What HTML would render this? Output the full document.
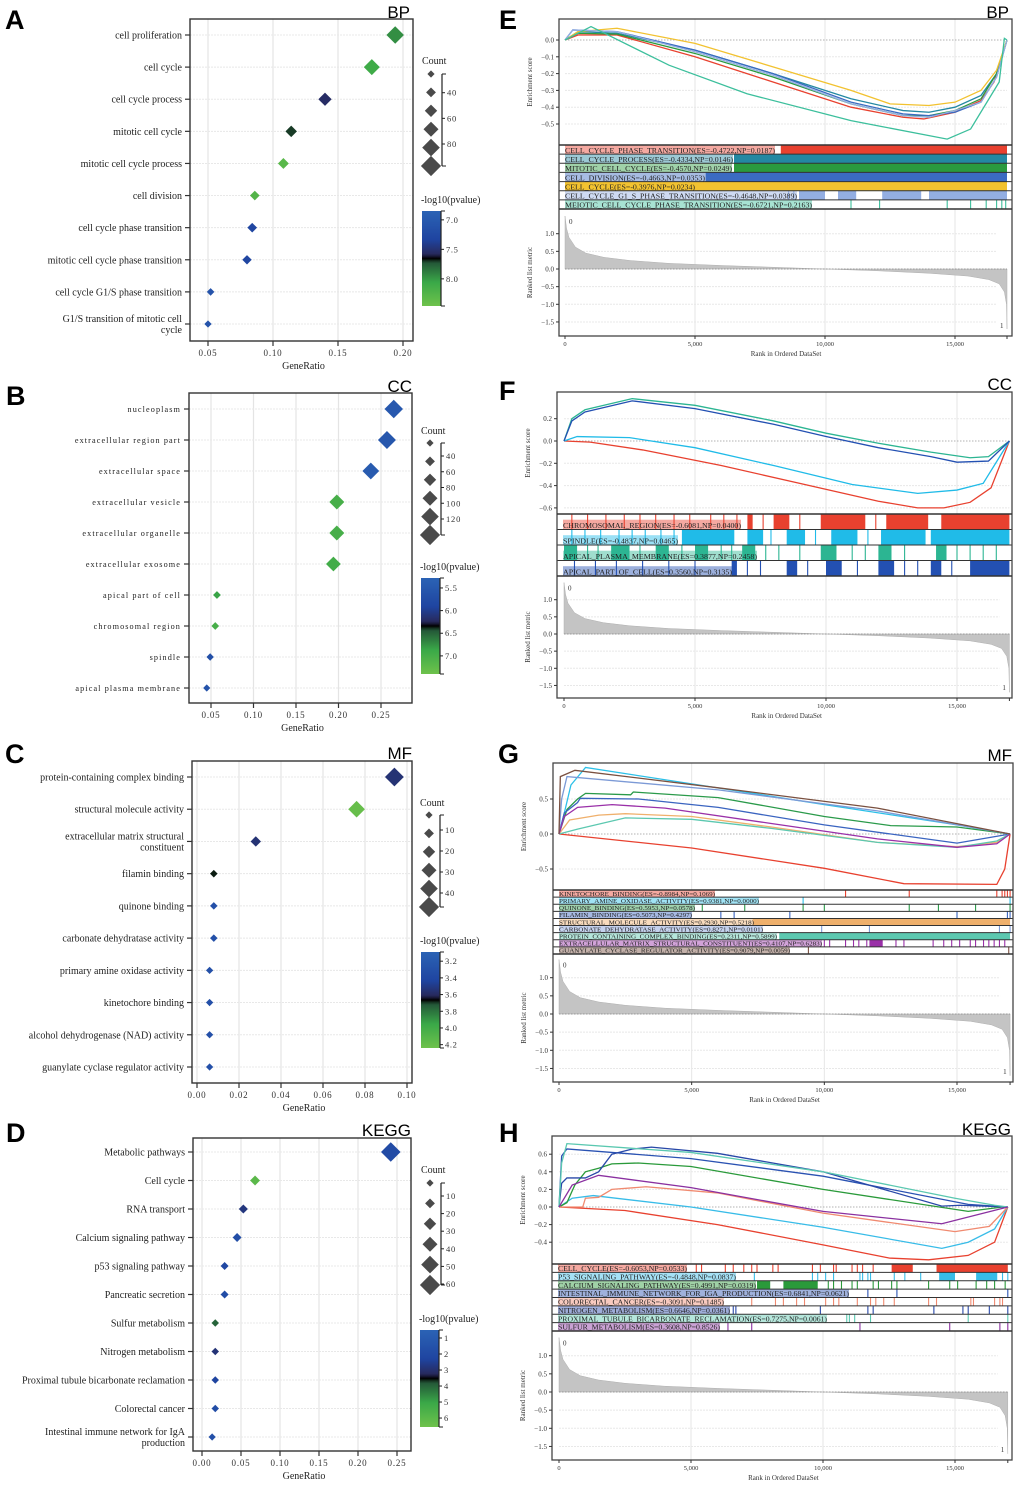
<!DOCTYPE html>
<html><head><meta charset="utf-8"><style>
html,body{margin:0;padding:0;background:#fff;}
svg{display:block;font-family:"Liberation Serif",serif;}
.lt{font-family:"Liberation Sans",sans-serif;}
</style></head><body>
<svg id="fig" width="1020" height="1487" viewBox="0 0 1020 1487" xmlns="http://www.w3.org/2000/svg">
<defs id="defs"></defs>
<text class="lt" x="5" y="29" font-size="27" font-weight="bold">A</text>
<text class="lt" x="6" y="405" font-size="27" font-weight="bold">B</text>
<text class="lt" x="5" y="763" font-size="27" font-weight="bold">C</text>
<text class="lt" x="6" y="1142" font-size="27" font-weight="bold">D</text>
<text class="lt" x="499" y="29" font-size="27" font-weight="bold">E</text>
<text class="lt" x="499" y="400" font-size="27" font-weight="bold">F</text>
<text class="lt" x="498" y="763" font-size="27" font-weight="bold">G</text>
<text class="lt" x="499" y="1142" font-size="27" font-weight="bold">H</text>
<text class="lt" x="410" y="18" font-size="17" text-anchor="end">BP</text>
<text class="lt" x="412" y="392" font-size="17" text-anchor="end">CC</text>
<text class="lt" x="412" y="759" font-size="17" text-anchor="end">MF</text>
<text class="lt" x="411" y="1136" font-size="17" text-anchor="end">KEGG</text>
<text class="lt" x="1009" y="18" font-size="17" text-anchor="end">BP</text>
<text class="lt" x="1012" y="390" font-size="17" text-anchor="end">CC</text>
<text class="lt" x="1012" y="761" font-size="17" text-anchor="end">MF</text>
<text class="lt" x="1011" y="1135" font-size="17" text-anchor="end">KEGG</text>
</svg>
<script>
// ===== Dot plot data =====
const aTerms=["cell proliferation","cell cycle","cell cycle process","mitotic cell cycle","mitotic cell cycle process","cell division","cell cycle phase transition","mitotic cell cycle phase transition","cell cycle G1/S phase transition","G1/S transition of mitotic cell\ncycle"];
const aRatio=[0.194,0.176,0.140,0.114,0.108,0.086,0.084,0.080,0.052,0.050];
const aCount=[90,80,62,50,46,38,38,36,24,22];
const aPval=[7.95,8.1,7.55,7.7,8.3,8.25,7.3,7.3,7.1,7.1];
const aXTicks=[0.05,0.10,0.15,0.20];
const aCTicks=[7.0,7.5,8.0];
const aSTicks=[40,60,80];

const bTerms=["nucleoplasm","extracellular region part","extracellular space","extracellular vesicle","extracellular organelle","extracellular exosome","apical part of cell","chromosomal region","spindle","apical plasma membrane"];
const bRatio=[0.265,0.257,0.238,0.198,0.198,0.194,0.057,0.055,0.049,0.045];
const bCount=[135,130,118,100,100,98,28,27,24,22];
const bPval=[5.5,5.55,5.45,7.0,7.0,6.95,6.85,7.0,5.7,5.6];
const bXTicks=[0.05,0.10,0.15,0.20,0.25];
const bCTicks=[5.5,6.0,6.5,7.0];
const bSTicks=[40,60,80,100,120];

const cTerms=["protein-containing complex binding","structural molecule activity","extracellular matrix structural\nconstituent","filamin binding","quinone binding","carbonate dehydratase activity","primary amine oxidase activity","kinetochore binding","alcohol dehydrogenase (NAD) activity","guanylate cyclase regulator activity"];
const cRatio=[0.094,0.076,0.028,0.008,0.008,0.008,0.006,0.006,0.006,0.006];
const cCount=[44,36,14,4,4,4,3,3,3,3];
const cPval=[3.55,4.2,3.55,3.68,3.3,3.3,3.3,3.3,3.3,3.3];
const cXTicks=[0.00,0.02,0.04,0.06,0.08,0.10];
const cCTicks=[3.2,3.4,3.6,3.8,4.0,4.2];
const cSTicks=[10,20,30,40];

const dTerms=["Metabolic pathways","Cell cycle","RNA transport","Calcium signaling pathway","p53 signaling pathway","Pancreatic secretion","Sulfur metabolism","Nitrogen metabolism","Proximal tubule bicarbonate reclamation","Colorectal cancer","Intestinal immune network for IgA\nproduction"];
const dRatio=[0.242,0.068,0.053,0.045,0.029,0.029,0.017,0.017,0.017,0.017,0.013];
const dCount=[62,16,12,11,7,7,4,4,4,4,3];
const dPval=[1.9,6.0,2.8,1.7,2.1,1.8,4.0,2.9,2.3,1.8,1.6];
const dXTicks=[0.00,0.05,0.10,0.15,0.20,0.25];
const dCTicks=[1,2,3,4,5,6];
const dSTicks=[10,20,30,40,50,60];

// ===== GSEA data =====
const eNames=["CELL_CYCLE_PHASE_TRANSITION(ES=-0.4722,NP=0.0187)","CELL_CYCLE_PROCESS(ES=-0.4334,NP=0.0146)","MITOTIC_CELL_CYCLE(ES=-0.4570,NP=0.0249)","CELL_DIVISION(ES=-0.4663,NP=0.0353)","CELL_CYCLE(ES=-0.3976,NP=0.0234)","CELL_CYCLE_G1_S_PHASE_TRANSITION(ES=-0.4648,NP=0.0389)","MEIOTIC_CELL_CYCLE_PHASE_TRANSITION(ES=-0.6721,NP=0.2163)"];
const eColors=["#e8412f","#2388a2","#2a9a3e","#3b6bc2","#f2c230","#93aee2","#3cbf9c"];
const eCurves=[
 [[0,0],[500,0.03],[2000,0.03],[5000,-0.1],[8000,-0.25],[11000,-0.4],[13000,-0.46],[13800,-0.47],[15000,-0.43],[16000,-0.36],[16500,-0.25],[17000,0]],
 [[0,0],[500,0.05],[2000,0.04],[5000,-0.06],[8000,-0.2],[11000,-0.35],[13000,-0.42],[14000,-0.43],[15000,-0.4],[16000,-0.33],[16600,-0.2],[17000,0]],
 [[0,0],[500,0.04],[2000,0.035],[5000,-0.08],[8000,-0.22],[11000,-0.38],[13000,-0.45],[14000,-0.45],[15000,-0.42],[16000,-0.35],[16600,-0.2],[17000,0]],
 [[0,0],[300,0.06],[2000,0.05],[5000,-0.06],[8000,-0.2],[11000,-0.37],[13000,-0.44],[14000,-0.45],[15000,-0.43],[16000,-0.37],[16600,-0.22],[17000,0]],
 [[0,0],[500,0.05],[2000,0.07],[5000,-0.02],[8000,-0.16],[11000,-0.3],[12500,-0.38],[14000,-0.39],[15000,-0.37],[16000,-0.3],[16600,-0.18],[17000,0]],
 [[0,0],[300,0.06],[2000,0.05],[5000,-0.07],[8000,-0.21],[11000,-0.38],[13000,-0.45],[14000,-0.46],[15000,-0.42],[16000,-0.37],[16600,-0.22],[17000,0]],
 [[0,0],[1000,0.08],[4000,-0.15],[7000,-0.32],[11000,-0.48],[14700,-0.59],[15600,-0.53],[16700,-0.25],[16900,0.01],[17000,0]]];
const eBlocks=[[[8300,17000]],[[6500,17000]],[[6500,17000]],[[5400,17000]],[[0,17000]],[[9000,10000],[10500,11200],[12200,13700],[14000,17000]],[]];
const eTicks=[[],[],[],[],[],[8600,8800],[11000,12100,14700,15600,16200,16600,16800,16950]];
const eRankTicks=[0,5000,10000,15000];
const eEsTicks=[0.0,-0.1,-0.2,-0.3,-0.4,-0.5];
const eRkTicks=[1.0,0.5,0.0,-0.5,-1.0,-1.5];

const fNames=["CHROMOSOMAL_REGION(ES=-0.6081,NP=0.0400)","SPINDLE(ES=-0.4837,NP=0.0465)","APICAL_PLASMA_MEMBRANE(ES=0.3877,NP=0.2458)","APICAL_PART_OF_CELL(ES=0.3560,NP=0.3135)"];
const fColors=["#e8412f","#20bbe8","#2cb592","#2350b2"];
const fCurves=[
 [[0,0],[1000,-0.01],[3000,-0.08],[6000,-0.22],[9000,-0.38],[12000,-0.54],[13500,-0.6],[14500,-0.6],[15500,-0.55],[16300,-0.42],[17000,0]],
 [[0,0],[500,0.04],[2500,0.03],[5000,-0.06],[8000,-0.22],[11000,-0.39],[13500,-0.47],[15000,-0.44],[16000,-0.38],[17000,0]],
 [[0,0],[300,0.2],[800,0.28],[2600,0.38],[5000,0.32],[8000,0.18],[10000,0.07],[12000,-0.02],[14000,-0.1],[15500,-0.15],[16200,-0.14],[17000,0]],
 [[0,0],[300,0.18],[800,0.26],[2600,0.36],[5000,0.29],[8000,0.15],[10000,0.04],[12000,-0.06],[14000,-0.14],[15000,-0.19],[16200,-0.18],[17000,0]]];
const fBlocks=[[[7000,7200],[8000,8600],[9800,11500],[12300,13900],[14400,17000]],[[4500,6500],[7000,7600],[8500,9200],[10200,11200],[12100,13800],[14000,17000]],[[0,500],[1800,2500],[3500,4000],[5000,5500],[6800,7300],[9800,10400],[12000,12500],[14200,14600]],[[6400,6600],[8500,8900],[10000,10600],[12000,12600],[14000,14400],[15500,17000]]];
const fTicks=[[300,900,1600,2300,2900,3500,4200,4800,5600,6100,6600,7600,9000,11900],[300,800,1400,2100,2600,3100,3700,4200,7900,9600,11600],[900,1300,2900,4500,6000,6400,7700,8200,9000,11000,11500,13000,15000,15500,16000,16500],[400,1200,2000,3000,4000,5000,7000,7500,9300,11200,13000,13500,14800]];
const fRankTicks=[0,5000,10000,15000];
const fEsTicks=[0.2,0.0,-0.2,-0.4,-0.6];
const fRkTicks=[1.0,0.5,0.0,-0.5,-1.0,-1.5];

const gNames=["KINETOCHORE_BINDING(ES=-0.8984,NP=0.1069)","PRIMARY_AMINE_OXIDASE_ACTIVITY(ES=0.9381,NP=0.0000)","QUINONE_BINDING(ES=0.5953,NP=0.0578)","FILAMIN_BINDING(ES=0.5073,NP=0.4297)","STRUCTURAL_MOLECULE_ACTIVITY(ES=0.2930,NP=0.5218)","CARBONATE_DEHYDRATASE_ACTIVITY(ES=0.8271,NP=0.0101)","PROTEIN_CONTAINING_COMPLEX_BINDING(ES=0.2311,NP=0.5899)","EXTRACELLULAR_MATRIX_STRUCTURAL_CONSTITUENT(ES=0.4107,NP=0.6283)","GUANYLATE_CYCLASE_REGULATOR_ACTIVITY(ES=0.9079,NP=0.0059)"];
const gColors=["#e8412f","#2cc0e8","#2a9a4a","#3a64c0","#efb06c","#7c9ad6","#5cc8b0","#9a30a8","#7a5040"];
const gCurves=[
 [[0,0],[5000,-0.2],[10000,-0.49],[13000,-0.71],[16500,-0.72],[16800,-0.5],[17000,0]],
 [[0,0],[200,0.3],[450,0.7],[1000,0.95],[5800,0.67],[10000,0.42],[15000,0.13],[17000,0]],
 [[0,0],[300,0.35],[700,0.5],[1000,0.58],[2700,0.56],[2800,0.6],[6000,0.52],[10000,0.25],[12500,0.12],[15000,0.1],[17000,0]],
 [[0,0],[200,0.3],[700,0.45],[800,0.51],[3000,0.5],[6000,0.38],[10000,0.13],[15000,-0.13],[17000,0]],
 [[0,0],[400,0.2],[1500,0.27],[2500,0.29],[5000,0.25],[8000,0.1],[12000,-0.12],[15000,-0.18],[16500,-0.12],[17000,0]],
 [[0,0],[100,0.5],[300,0.82],[6000,0.63],[12000,0.33],[17000,0]],
 [[0,0],[700,0.07],[2500,0.23],[5000,0.21],[8000,0.08],[12000,-0.12],[15000,-0.19],[16500,-0.1],[17000,0]],
 [[0,0],[200,0.25],[700,0.38],[2000,0.42],[4000,0.37],[8000,0.15],[12000,-0.07],[15000,-0.19],[16500,-0.14],[17000,0]],
 [[0,0],[50,0.82],[600,0.91],[6000,0.66],[12000,0.37],[17000,0]]];
const gBlocks=[[],[],[],[],[[7300,17000]],[],[[8300,17000]],[[11700,12200]],[]];
const gTicks=[[10800,13200,16500,16700,16800,16900,17000],[9200,17000],[5400,7000,9200,10000,13200,14300,15700,17000],[6100,6600,8700,15000,16900,17000],[],[9900,11700,16600,17000],[],[10000,10200,10800,11100,11300,11600,11800,12700,13000,14100,14500,14800,15100,15500,15700,16000,16200,16400,16600,16800],[9400,16950]];
const gRankTicks=[0,5000,10000,15000];
const gEsTicks=[0.5,0.0,-0.5];
const gRkTicks=[1.0,0.5,0.0,-0.5,-1.0,-1.5];

const hNames=["CELL_CYCLE(ES=-0.6053,NP=0.0533)","P53_SIGNALING_PATHWAY(ES=-0.4848,NP=0.0837)","CALCIUM_SIGNALING_PATHWAY(ES=0.4991,NP=0.0319)","INTESTINAL_IMMUNE_NETWORK_FOR_IGA_PRODUCTION(ES=0.6841,NP=0.0621)","COLORECTAL_CANCER(ES=-0.3091,NP=0.1485)","NITROGEN_METABOLISM(ES=0.6646,NP=0.0361)","PROXIMAL_TUBULE_BICARBONATE_RECLAMATION(ES=0.7275,NP=0.0061)","SULFUR_METABOLISM(ES=0.3608,NP=0.8526)"];
const hColors=["#e8412f","#38bce8","#2a9a3a","#2a52b2","#f08a70","#2848a8","#5ac8b0","#8a30a0"];
const hCurves=[
 [[0,0],[2500,-0.04],[6000,-0.2],[10000,-0.43],[12500,-0.58],[14000,-0.6],[15500,-0.55],[16500,-0.4],[17000,0]],
 [[0,0],[500,0.1],[1300,0.13],[5000,0.0],[10000,-0.23],[14500,-0.47],[15500,-0.4],[16500,-0.25],[17000,0]],
 [[0,0],[300,0.05],[600,0.25],[1000,0.4],[1500,0.44],[2000,0.49],[3000,0.5],[5000,0.46],[10000,0.2],[15500,-0.05],[16800,0.0],[17000,0]],
 [[0,0],[100,0.58],[300,0.66],[5000,0.55],[10000,0.35],[15500,0.03],[17000,0]],
 [[0,0],[900,0.0],[1000,0.1],[1500,0.11],[2000,0.2],[3300,0.23],[6000,0.16],[10000,-0.07],[15000,-0.28],[16300,-0.22],[17000,0]],
 [[0,0],[100,0.27],[300,0.33],[1000,0.33],[1500,0.4],[2000,0.6],[2800,0.66],[3500,0.68],[6000,0.61],[10000,0.4],[14500,0.01],[15200,0.02],[17000,0]],
 [[0,0],[100,0.5],[300,0.72],[5000,0.62],[10000,0.4],[15000,0.1],[16500,0.02],[17000,0]],
 [[0,0],[500,0.25],[1500,0.36],[5000,0.22],[10000,-0.05],[14500,-0.19],[17000,0]]];
const hBlocks=[[[12600,13400],[14300,17000]],[[14400,15000],[15800,16600]],[[7500,8000],[8500,9800]],[],[],[],[],[]];
const hTicks=[[5200,5400,6300,6600,7000,7300,7500,8100,8300,9600,9900,10400,10500,11100,11300,11500,11900],[7400,9600,9800,10100,10400,11400,11500,11700,11800,12700,13100,13700,16800,17000],[10200,10400,10700,11100,11300,11900,12100,12600,12800,14000,14800,15100,15800,16200,16500,16900],[11700,12800,17000],[7300,8200,8500,9000,9300,10100,10400,10600,11300,11800,12000,12300,12700,14000,14300,15600,15700,16500,16700,16800],[6600,6700,9900,11700,11900,14200,15300,15500,16300,17000],[10900,11000,11200,11800,15500,17000],[6400,7300,11400,14800,16700,17000]];
const hRankTicks=[0,5000,10000,15000];
const hEsTicks=[0.6,0.4,0.2,0.0,-0.2,-0.4];
const hRkTicks=[1.0,0.5,0.0,-0.5,-1.0,-1.5];

// shared ranked list metric
const metricRank=[0,60,150,400,800,1500,2500,4000,6000,8000,10000,12000,14000,15500,16300,16700,16900,16980,17000];
const metricVal=[1.5,1.15,0.9,0.62,0.45,0.33,0.24,0.16,0.1,0.05,0.0,-0.05,-0.12,-0.2,-0.3,-0.42,-0.65,-1.0,-1.7];

// ===== helpers =====
const NS='http://www.w3.org/2000/svg';
const svg=document.getElementById('fig');
const defs=document.getElementById('defs');
function mk(tag,attrs,parent){const e=document.createElementNS(NS,tag);for(const k in attrs)e.setAttribute(k,attrs[k]);(parent||svg).appendChild(e);return e;}
const cStops=[[0,[43,99,181]],[0.3,[31,68,160]],[0.46,[40,40,90]],[0.5,[0,0,0]],[0.54,[35,85,55]],[0.75,[58,168,72]],[1,[110,194,75]]];
function colorAt(t){t=Math.max(0,Math.min(1,t));for(let i=1;i<cStops.length;i++){if(t<=cStops[i][0]){const a=cStops[i-1],b=cStops[i];const f=(t-a[0])/(b[0]-a[0]);const c=a[1].map((v,j)=>Math.round(v+(b[1][j]-v)*f));return 'rgb('+c.join(',')+')';}}return 'rgb(110,194,75)';}
function fmtN(v,d){return v.toFixed(d);}

function dotPlot(P,terms,ratio,count,pval,xTicks,cTicks,sTicks){
 const g=mk('g',{});
 
 
 const xs=v=>P.x0p+(v-P.x0v)*(P.x1p-P.x0p)/(P.x1v-P.x0v);
 const ys=i=>P.y0+i*(P.y1-P.y0)/(terms.length-1);
 const rs=c=>P.r0+(c-P.c0)*(P.r1-P.r0)/(P.c1-P.c0);
 const ct=v=>(v-P.cv0)/(P.cv1-P.cv0);
 xTicks.forEach(v=>{const l=mk('line',{x1:xs(v),x2:xs(v),y1:P.t,y2:P.b,stroke:'#e4e4e4','stroke-width':1.2},g);
 
 });
 terms.forEach((t,i)=>{const l=mk('line',{x1:P.l,x2:P.r,y1:ys(i),y2:ys(i),stroke:'#e8e8e8','stroke-width':1,'stroke-dasharray':'2,1'},g);
 
 });
 const box=mk('rect',{x:P.l,y:P.t,width:P.r-P.l,height:P.b-P.t,fill:'none',stroke:'#333','stroke-width':1.4},g);
 
 
 terms.forEach((t,i)=>{
  const y=ys(i);
  mk('line',{x1:P.l-5,x2:P.l,y1:y,y2:y,stroke:'#333','stroke-width':1.2},g);
  const lines=t.split('\n');
  const tx=mk('text',{x:P.l-8,'font-size':P.fs,'text-anchor':'end',fill:'#222','letter-spacing':P.ls||0},g);
  
  
  lines.forEach((ln,k)=>{const sp=mk('tspan',{x:P.l-8,y:y+P.fs*0.35+(k-(lines.length-1)/2)*P.fs*1.1},tx);sp.textContent=ln;});
  const r=rs(count[i]),cx=xs(ratio[i]);
  const d=mk('polygon',{points:[cx,y-r,cx+r,y,cx,y+r,cx-r,y].join(' ').replace(/(\S+) (\S+)/g,'$1,$2'),fill:colorAt(ct(pval[i]))},g);
  
  
 });
 xTicks.forEach(v=>{const x=xs(v);mk('line',{x1:x,x2:x,y1:P.b,y2:P.b+5,stroke:'#333','stroke-width':1.2},g);
  const t=mk('text',{x:x,y:P.b+15,'font-size':9,'text-anchor':'middle','letter-spacing':0.8,fill:'#333'},g);t.textContent=fmtN(v,2);
  
  });
 const xt=mk('text',{x:(P.l+P.r)/2+2,y:P.b+28,'font-size':10,'text-anchor':'middle',fill:'#222'},g);xt.textContent='GeneRatio';
 
 
 // size legend
 const ct1=mk('text',{x:P.lgX-9,y:P.cntY,'font-size':10,fill:'#222'},g);ct1.textContent='Count';
 
 
 for(let k=0;k<6;k++){const y=P.lgY0+k*(P.lgY1-P.lgY0)/5,r=3.6+k*1.3;
  const d=mk('polygon',{points:(P.lgX)+','+(y-r)+' '+(P.lgX+r)+','+y+' '+P.lgX+','+(y+r)+' '+(P.lgX-r)+','+y,fill:'#4a4a4a'},g);
  
  }
 const bx=P.lgX+11;
 mk('line',{x1:bx,x2:bx,y1:P.lgY0,y2:P.lgY1,stroke:'#222','stroke-width':1.2},g);
 mk('line',{x1:bx,x2:bx+4,y1:P.lgY0,y2:P.lgY0,stroke:'#222'},g);
 mk('line',{x1:bx,x2:bx+4,y1:P.lgY1,y2:P.lgY1,stroke:'#222'},g);
 sTicks.forEach(v=>{const y=P.sp0+(v-P.sv0)*(P.sp1-P.sp0)/(P.sv1-P.sv0);mk('line',{x1:bx,x2:bx+3,y1:y,y2:y,stroke:'#222'},g);
  const t=mk('text',{x:bx+5,y:y+3,'font-size':8.5,'letter-spacing':0.8,fill:'#333'},g);t.textContent=v;
  
  });
 // color legend
 const pt=mk('text',{x:P.cbX-1,y:P.cbY0-8,'font-size':10,fill:'#222'},g);pt.textContent='-log10(pvalue)';
 
 
 const gid='grad-'+P.name;
 const lg=mk('linearGradient',{id:gid,x1:0,y1:0,x2:0,y2:1},defs);
 for(let k=0;k<=40;k++){mk('stop',{offset:k/40,'stop-color':colorAt(k/40)},lg);}
 const cb=mk('rect',{x:P.cbX,y:P.cbY0,width:19,height:P.cbY1-P.cbY0,fill:'url(#'+gid+')'},g);
 
 
 const cx2=P.cbX+19;
 mk('line',{x1:cx2,x2:cx2,y1:P.cbY0,y2:P.cbY1,stroke:'#222','stroke-width':1.2},g);
 mk('line',{x1:cx2,x2:cx2+4,y1:P.cbY0,y2:P.cbY0,stroke:'#222'},g);
 mk('line',{x1:cx2,x2:cx2+4,y1:P.cbY1,y2:P.cbY1,stroke:'#222'},g);
 cTicks.forEach(v=>{const y=P.cbY0+ct(v)*(P.cbY1-P.cbY0);mk('line',{x1:cx2,x2:cx2+3,y1:y,y2:y,stroke:'#222'},g);
  const t=mk('text',{x:cx2+5,y:y+3,'font-size':8.5,'letter-spacing':0.6,fill:'#333'},g);t.textContent=(P.cd===0?v.toFixed(0):v.toFixed(1));
  
  });
}

dotPlot({name:'dotplot-bp',l:190,r:413,t:19,b:341,x0v:0.05,x0p:208,x1v:0.20,x1p:403,y0:35,y1:324,fs:10,r0:3.5,r1:9.5,c0:20,c1:100,cv0:6.85,cv1:8.46,lgX:431,lgY0:74,lgY1:166,cntY:64,sv0:40,sp0:92.7,sv1:80,sp1:144,cbX:422,cbY0:211,cbY1:306},aTerms,aRatio,aCount,aPval,aXTicks,aCTicks,aSTicks);
dotPlot({name:'dotplot-cc',l:189,r:412,t:393,b:703,x0v:0.05,x0p:211,x1v:0.25,x1p:381,y0:409,y1:688,fs:8.2,ls:1.1,r0:3.5,r1:9.5,c0:20,c1:140,cv0:5.28,cv1:7.4,lgX:430,lgY0:443,lgY1:535,cntY:434,sv0:40,sp0:456,sv1:120,sp1:519,cbX:421,cbY0:578,cbY1:674},bTerms,bRatio,bCount,bPval,bXTicks,bCTicks,bSTicks);
dotPlot({name:'dotplot-mf',l:192,r:412,t:761,b:1083,x0v:0,x0p:197,x1v:0.10,x1p:407,y0:777,y1:1067,fs:10,r0:3.5,r1:10,c0:2,c1:48,cv0:3.09,cv1:4.24,lgX:429,lgY0:815,lgY1:907,cntY:806,sv0:10,sp0:830,sv1:40,sp1:893,cbX:421,cbY0:952,cbY1:1048},cTerms,cRatio,cCount,cPval,cXTicks,cCTicks,cSTicks);
dotPlot({name:'dotplot-kegg',l:193,r:411,t:1138,b:1451,x0v:0,x0p:202,x1v:0.25,x1p:397,y0:1152,y1:1437,fs:10,r0:3.5,r1:10,c0:2,c1:64,cv0:0.5,cv1:6.56,cd:0,lgX:430,lgY0:1183,lgY1:1285,cntY:1173,sv0:10,sp0:1196,sv1:60,sp1:1284,cbX:420,cbY0:1330,cbY1:1427},dTerms,dRatio,dCount,dPval,dXTicks,dCTicks,dSTicks);

function gsea(P,names,colors,curves,blocks,ticks,rankTicks,esTicks,rkTicks){
 const g=mk('g',{});
 
 
 const xs=r=>P.x0+r*(P.x15-P.x0)/15000;
 const ye=v=>P.e0-v*P.eu;
 const yr=v=>P.k0-v*P.ku;
 const xEnd=xs(17000);
 // grids
 rankTicks.forEach(r=>{if(r===0)return;[[P.t,P.eb],[P.hb,P.b]].forEach(s=>{mk('line',{x1:xs(r),x2:xs(r),y1:s[0],y2:s[1],stroke:'#e6e6e6','stroke-width':1},g);});});
 esTicks.forEach(v=>{if(v===0)return;mk('line',{x1:xs(0),x2:xEnd,y1:ye(v),y2:ye(v),stroke:'#e8e8e8','stroke-dasharray':'2,1'},g);});
 rkTicks.forEach(v=>{if(v===0)return;mk('line',{x1:xs(0),x2:xEnd-10,y1:yr(v),y2:yr(v),stroke:'#e8e8e8','stroke-dasharray':'2,1'},g);});
 mk('line',{x1:xs(0),x2:xEnd,y1:ye(0),y2:ye(0),stroke:'#999','stroke-dasharray':'1.5,1.5','stroke-width':0.8},g);
 // metric
 let d='M'+xs(metricRank[0])+','+yr(0);
 metricRank.forEach((r,i)=>{d+=' L'+xs(r)+','+yr(metricVal[i]);});
 d+=' L'+xs(17000)+','+yr(0)+'Z';
 const mp=mk('path',{d:d,fill:'#c4c4c4',stroke:'#b0b0b0','stroke-width':0.5},g);
 
 
 mk('line',{x1:xs(0),x2:xEnd,y1:yr(0),y2:yr(0),stroke:'#888','stroke-dasharray':'1.5,1.5','stroke-width':0.8},g);
 const z0=mk('text',{x:xs(0)+4,y:yr(metricVal[0])+8,'font-size':7,fill:'#333'},g);z0.textContent='0';
 const z1=mk('text',{x:xEnd-7,y:P.b-8,'font-size':7,fill:'#333'},g);z1.textContent='1';
 // curves
 curves.forEach((c,i)=>{const pl=mk('polyline',{points:c.map(p=>xs(p[0])+','+ye(p[1])).join(' '),fill:'none',stroke:colors[i],'stroke-width':1.3},g);
  
  });
 // hit rows
 const n=names.length,rh=(P.hb-P.eb)/n;
 names.forEach((nm,i)=>{
  const y0=P.eb+i*rh;
  const bgH=Math.min(rh,P.lf+2);
  const bg=mk('rect',{x:P.lx,y:y0+rh-bgH,width:P.lend[i]-P.lx,height:bgH,fill:colors[i],'fill-opacity':0.45},g);
  
  
  blocks[i].forEach(b=>{const r=mk('rect',{x:xs(b[0]),y:y0,width:xs(b[1])-xs(b[0]),height:rh,fill:colors[i]},g);
   
   });
  ticks[i].forEach(tk=>{const l=mk('line',{x1:xs(tk),x2:xs(tk),y1:y0,y2:y0+rh,stroke:colors[i],'stroke-width':1.1},g);
   
   });
  const t=mk('text',{x:P.lx,y:y0+rh-1.3,'font-size':P.lf,fill:'#222',textLength:P.lend[i]-P.lx,lengthAdjust:'spacingAndGlyphs'},g);t.textContent=nm;
  
  
  if(i>0)mk('line',{x1:P.l,x2:P.r,y1:y0,y2:y0,stroke:'#333','stroke-width':1},g);
 });
 // frame
 const fr=mk('rect',{x:P.l,y:P.t,width:P.r-P.l,height:P.b-P.t,fill:'none',stroke:'#444','stroke-width':1.3},g);
 
 
 mk('line',{x1:P.l,x2:P.r,y1:P.eb,y2:P.eb,stroke:'#333','stroke-width':1.6},g);
 mk('line',{x1:P.l,x2:P.r,y1:P.hb,y2:P.hb,stroke:'#333','stroke-width':1.6},g);
 // y ticks
 const lab=(v)=>(v<0?'\u2212':'')+Math.abs(v).toFixed(1);
 esTicks.forEach(v=>{const y=ye(v);mk('line',{x1:P.l-3,x2:P.l,y1:y,y2:y,stroke:'#333'},g);
  const t=mk('text',{x:P.l-5,y:y+2.5,'font-size':7,'text-anchor':'end',fill:'#333'},g);t.textContent=lab(v);
  
  });
 rkTicks.forEach(v=>{const y=yr(v);mk('line',{x1:P.l-3,x2:P.l,y1:y,y2:y,stroke:'#333'},g);
  const t=mk('text',{x:P.l-5,y:y+2.5,'font-size':7,'text-anchor':'end',fill:'#333'},g);t.textContent=lab(v);
  
  });
 rankTicks.concat([17000]).forEach(r=>{const x=xs(r);mk('line',{x1:x,x2:x,y1:P.b,y2:P.b+3,stroke:'#333'},g);
  if(r===17000)return;
  const t=mk('text',{x:x,y:P.b+10,'font-size':6.5,'text-anchor':'middle',fill:'#333'},g);t.textContent=r.toLocaleString('en-US');
  
  });
 const xt=mk('text',{x:(xs(0)+xEnd)/2,y:P.b+20,'font-size':7,'text-anchor':'middle',fill:'#333'},g);xt.textContent='Rank in Ordered DataSet';
 
 
 const ya=(P.t+P.eb)/2,yb=(P.hb+P.b)/2;
 const t1=mk('text',{x:P.l-27,y:ya,'font-size':7,'text-anchor':'middle',fill:'#333',transform:'rotate(-90 '+(P.l-27)+' '+ya+')'},g);t1.textContent='Enrichment score';
 
 
 const t2=mk('text',{x:P.l-27,y:yb,'font-size':7,'text-anchor':'middle',fill:'#333',transform:'rotate(-90 '+(P.l-27)+' '+yb+')'},g);t2.textContent='Ranked list metric';
 
 
}

gsea({name:'gsea-bp',l:559,r:1012,t:19,b:336,eb:145,hb:209,x0:565,x15:955,e0:40,eu:168,k0:269,ku:35.3,lx:565,lf:7.5,lend:[775,733,732,705,695,797,812]},eNames,eColors,eCurves,eBlocks,eTicks,eRankTicks,eEsTicks,eRkTicks);
gsea({name:'gsea-cc',l:557,r:1012,t:392,b:698,eb:514,hb:576,x0:564,x15:957,e0:441,eu:111.5,k0:634,ku:34.3,lx:563,lf:7.8,lend:[741,678,757,732]},fNames,fColors,fCurves,fBlocks,fTicks,fRankTicks,fEsTicks,fRkTicks);
gsea({name:'gsea-mf',l:553,r:1013,t:763,b:1082,eb:890,hb:954,x0:559,x15:957,e0:834,eu:70,k0:1014,ku:36.3,lx:559,lf:6.5,lend:[715,759,695,692,754,763,777,822,790]},gNames,gColors,gCurves,gBlocks,gTicks,gRankTicks,gEsTicks,gRkTicks);
gsea({name:'gsea-kegg',l:552,r:1012,t:1136,b:1460,eb:1264,hb:1331,x0:559,x15:955,e0:1207,eu:88,k0:1392,ku:36.3,lx:558,lf:7.2,lend:[687,736,756,849,724,730,827,720]},hNames,hColors,hCurves,hBlocks,hTicks,hRankTicks,hEsTicks,hRkTicks);
</script>
</body></html>
